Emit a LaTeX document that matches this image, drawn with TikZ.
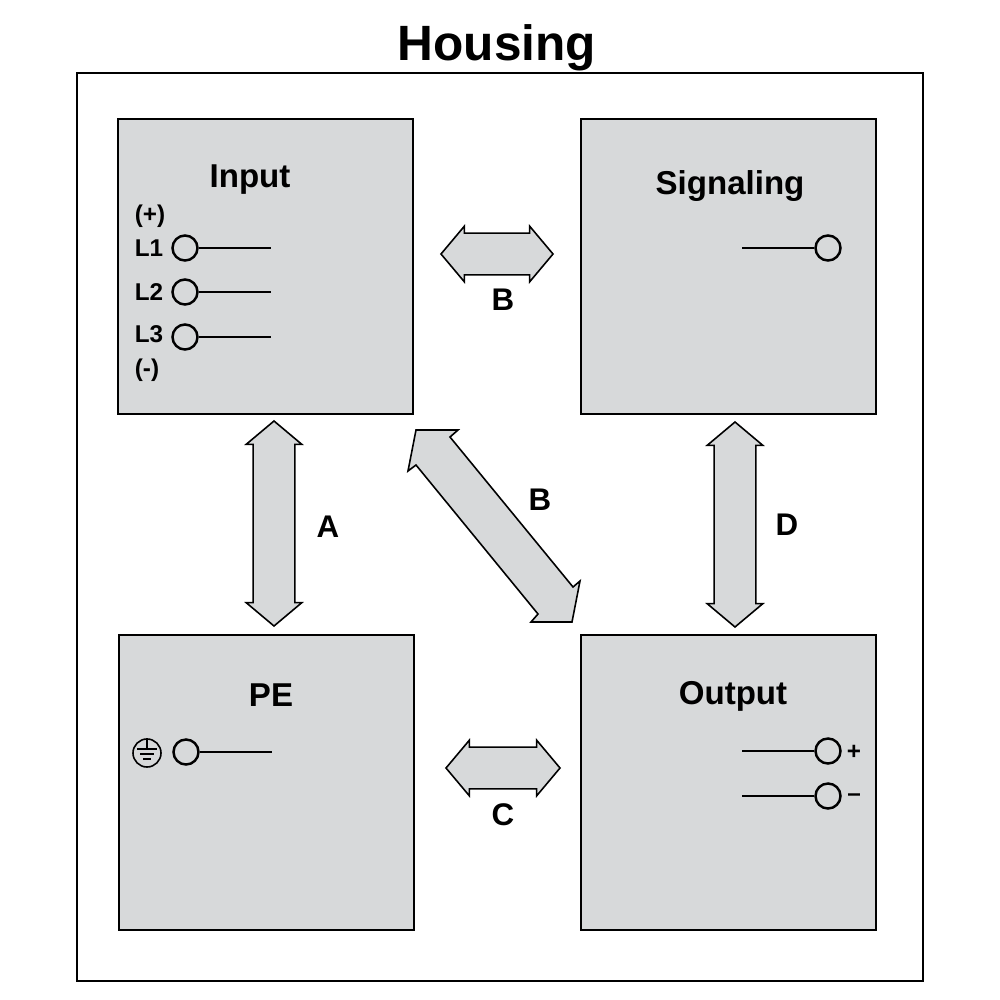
\documentclass[tikz,border=0pt]{standalone}
\usepackage{fontspec}
\setmainfont{Liberation Sans}
\usetikzlibrary{shapes.arrows}
\definecolor{boxgray}{HTML}{D7D9DA}
\tikzset{
    unitbox/.style={draw=black,line width=0.45pt,fill=boxgray,minimum size=2.95cm,inner sep=0pt},
    title/.style={font=\bfseries\fontsize{9.4}{11}\selectfont,inner sep=0pt},
    pin/.style={font=\bfseries\fontsize{6.9}{8}\selectfont,inner sep=0pt},
    letter/.style={font=\bfseries\fontsize{8.9}{10}\selectfont,inner sep=0pt},
    terminal/.style={circle,draw=black,line width=0.7pt,minimum size=0.25cm,inner sep=0pt},
    wire/.style={line width=0.7pt},
    fatarrow/.style={double arrow,draw=black,line width=0.45pt,fill=boxgray,inner sep=0pt,
        text width=0pt,text height=0.2cm,text depth=0.2cm,
        minimum height=#1*0.01cm,minimum width=0.54cm,
        double arrow head extend=0.07cm,double arrow tip angle=100}
}
\begin{document}
\begin{tikzpicture}[x=0.01cm,y=-0.01cm]
    \useasboundingbox (0,0) rectangle (1000,1000);
    \node[draw=black,line width=0.6pt,minimum width=8.46cm,minimum height=9.08cm,inner sep=0pt] (housing) at (500,527) {};
    \node[font=\bfseries\fontsize{14.1}{17}\selectfont,inner sep=0pt] (housingtitle) at (497,48) {Housing};

    \node[unitbox] (input) at (265.5,266.5) {};
    \node[unitbox] (signaling) at (728.5,266.5) {};
    \node[unitbox] (pe) at (266.5,782.5) {};
    \node[unitbox] (output) at (728.5,782.5) {};

    \node[title] (inputtitle) at (250,180) {Input};
    \node[title] (signalingtitle) at (730,186) {Signaling};
    \node[title] (petitle) at (271,695) {PE};
    \node[title] (outputtitle) at (733,696) {Output};

    % input terminals
    \node[pin] (plus) at (150,216) {(+)};
    \node[pin] (minus) at (147,370) {(-)};
    \foreach \name/\ypos/\ylab in {L1/248/248,L2/292/292,L3/337/334}{
        \node[pin] (lab\name) at (149,\ylab) {\name};
        \node[terminal] (pin\name) at (185,\ypos) {};
        \coordinate (end\name) at (271,\ypos);
        \draw[wire] (pin\name) -- (end\name);
    }

    % signaling terminal
    \node[terminal] (pinsig) at (828,248) {};
    \coordinate (endsig) at (742,248);
    \draw[wire] (endsig) -- (pinsig);

    % earth terminal
    \node[circle,draw=black,line width=0.45pt,minimum size=0.28cm,inner sep=0pt] (earth) at (147,753) {};
    \draw[line width=0.45pt] (earth.north) -- (147,749);
    \draw[line width=0.45pt] (137,749) -- (157,749);
    \draw[line width=0.45pt] (140,754) -- (154,754);
    \draw[line width=0.45pt] (143,759) -- (151,759);
    \node[terminal] (pinpe) at (186,752) {};
    \coordinate (endpe) at (272,752);
    \draw[wire] (pinpe) -- (endpe);

    % output terminals
    \foreach \name/\ypos/\sign in {pos/751/+,neg/796/\textendash}{
        \node[terminal] (pin\name) at (828,\ypos) {};
        \coordinate (end\name) at (742,\ypos);
        \draw[wire] (end\name) -- (pin\name);
        \node[pin] (sign\name) at (854,\ypos+1.5) {\sign};
    }

    % isolation arrows
    \node[fatarrow=112] (arrowtop) at (497,254) {};
    \node[fatarrow=114] (arrowbottom) at (503,768) {};
    \node[fatarrow=205,rotate=90] (arrowleft) at (274,523.5) {};
    \node[fatarrow=205,rotate=90] (arrowright) at (735,524.5) {};
    \draw[draw=black,line width=0.45pt,fill=boxgray,line join=miter]
        (416,430) -- (458,430) -- (450,437) -- (573,587) -- (580,581) -- (572,622)
        -- (531,622) -- (538,614) -- (416,465) -- (408,471) -- cycle;

    \node[letter] (labtop) at (503,300) {B};
    \node[letter] (labdiag) at (540,500) {B};
    \node[letter] (lableft) at (328,527) {A};
    \node[letter] (labright) at (787,525) {D};
    \node[letter] (labbottom) at (503,815) {C};
\end{tikzpicture}
\end{document}
